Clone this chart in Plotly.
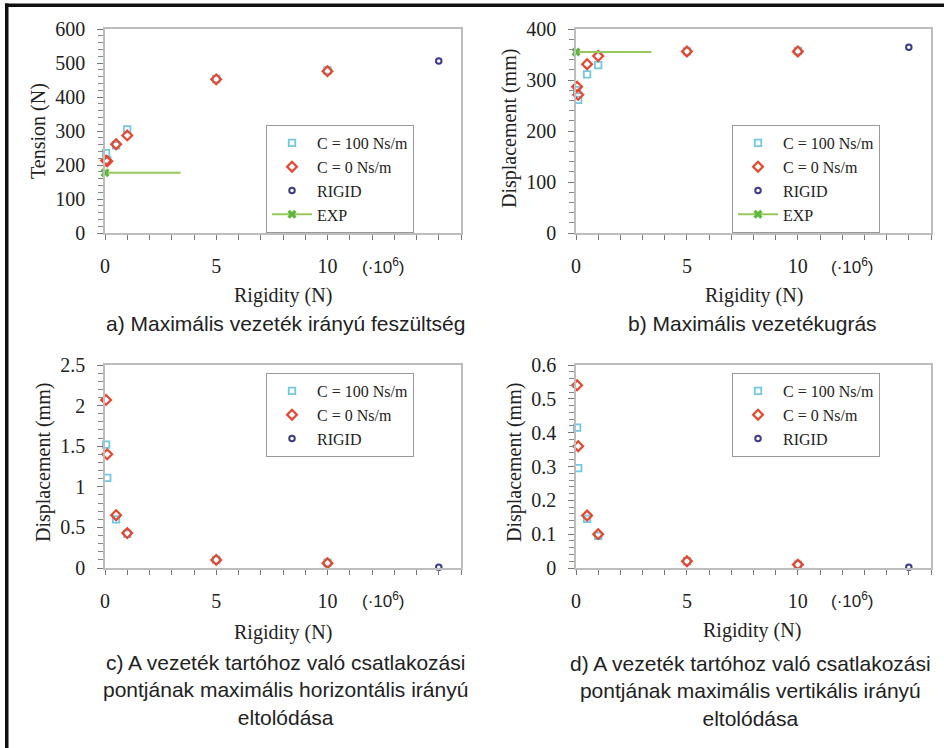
import plotly.graph_objects as go

W, H = 944, 748

# ---------------- data ----------------
rigidity = [0.05, 0.1, 0.5, 1, 5, 10]      # x 10^6 N
rigid_x = [15]
exp_x = [0, 3.4]

tension_c100 = [235, 214, 258, 305, 453, 478]
tension_c0 = [213, 211, 261, 287, 452, 476]
tension_rigid = [506]
tension_exp = [177, 177]

jump_c100 = [280, 261, 311, 329, 356, 357]
jump_c0 = [287, 271, 331, 347, 356, 356]
jump_rigid = [364]
jump_exp = [355, 355]

horiz_c100 = [1.52, 1.11, 0.60, 0.42, 0.10, 0.065]
horiz_c0 = [2.07, 1.40, 0.65, 0.43, 0.10, 0.06]
horiz_rigid = [0.01]

vert_c100 = [0.415, 0.295, 0.145, 0.095, 0.02, 0.01]
vert_c0 = [0.54, 0.36, 0.155, 0.10, 0.02, 0.01]
vert_rigid = [0.002]

series_names = ["C = 100 Ns/m", "C = 0 Ns/m", "RIGID", "EXP"]
x_tick_vals = list(range(0, 17))
x_tick_text = ["0", "", "", "", "", "5", "", "", "", "", "10", "", "", "", "", "", ""]
captions = [
    "a) Maximális vezeték irányú feszültség",
    "b) Maximális vezetékugrás",
    "c) A vezeték tartóhoz való csatlakozási<br>pontjának maximális horizontális irányú<br>eltolódása",
    "d) A vezeték tartóhoz való csatlakozási<br>pontjának maximális vertikális irányú<br>eltolódása",
]
y_titles = ["Tension (N)", "Displacement (mm)", "Displacement (mm)", "Displacement (mm)"]
x_title = "Rigidity (N)"

# ---------------- styles ----------------
C100 = "#72c8e4"
C0 = "#e8452c"
RIG = "#3c3a8c"
EXPC = "#96c95a"
EXPM = "#5cb83a"
SERIF = "Liberation Serif, Times New Roman, serif"
SANS = "Liberation Sans, Arial, sans-serif"

def px_x(p):
    return p / W

def px_y(p):
    return 1 - p / H

# plot areas in pixels: (left, right, top, bottom)
areas = [(105, 461, 29, 233), (576, 931, 29, 233),
         (105, 461, 365, 568), (576, 931, 365, 568)]

panels = [
    (tension_c100, tension_c0, tension_rigid, tension_exp),
    (jump_c100, jump_c0, jump_rigid, jump_exp),
    (horiz_c100, horiz_c0, horiz_rigid, None),
    (vert_c100, vert_c0, vert_rigid, None),
]
y_ranges = [[0, 600], [0, 400], [0, 2.5], [0, 0.6]]
y_dticks = [100, 100, 0.5, 0.1]
y_minor = [20, 20, 0.1, 0.02]

fig = go.Figure()
legend_names = ["legend", "legend2", "legend3", "legend4"]

for i, (c100, c0, rig, exp) in enumerate(panels):
    xa = "x" if i == 0 else f"x{i+1}"
    ya = "y" if i == 0 else f"y{i+1}"
    lg = legend_names[i]
    fig.add_trace(go.Scatter(
        x=rigidity, y=c100, mode="markers", name=series_names[0],
        marker=dict(symbol="square-open", size=6.5, color=C100, line=dict(width=1.8)),
        xaxis=xa, yaxis=ya, legend=lg, cliponaxis=False))
    fig.add_trace(go.Scatter(
        x=rigidity, y=c0, mode="markers", name=series_names[1],
        marker=dict(symbol="diamond-open", size=7.5, color=C0, line=dict(width=2.2)),
        xaxis=xa, yaxis=ya, legend=lg, cliponaxis=False))
    fig.add_trace(go.Scatter(
        x=rigid_x, y=rig, mode="markers", name=series_names[2],
        marker=dict(symbol="circle-open", size=5.5, color=RIG, line=dict(width=2)),
        xaxis=xa, yaxis=ya, legend=lg, cliponaxis=False))
    if exp is not None:
        fig.add_trace(go.Scatter(
            x=exp_x, y=exp, mode="lines+markers", name=series_names[3],
            line=dict(color=EXPC, width=2),
            marker=dict(symbol="x", size=8, color=[EXPM, "rgba(0,0,0,0)"],
                        line=dict(width=0)),
            xaxis=xa, yaxis=ya, legend=lg, cliponaxis=False))

layout = dict(
    width=W, height=H, margin=dict(l=0, r=0, t=0, b=0, autoexpand=False),
    paper_bgcolor="white", plot_bgcolor="white", showlegend=True,
)

for i, (l, r, t, b) in enumerate(areas):
    xk = "xaxis" if i == 0 else f"xaxis{i+1}"
    yk = "yaxis" if i == 0 else f"yaxis{i+1}"
    ya = "y" if i == 0 else f"y{i+1}"
    xa = "x" if i == 0 else f"x{i+1}"
    layout[xk] = dict(
        domain=[px_x(l), px_x(r)], anchor=ya, range=[0, 16],
        tickmode="array", tickvals=x_tick_vals, ticktext=x_tick_text,
        ticks="outside", ticklen=5, tickcolor="#777", tickwidth=1,
        showline=True, linecolor="#bdbdbd", linewidth=1.5, mirror=True,
        showgrid=False, zeroline=False, ticklabelstandoff=9, automargin=False,
        tickfont=dict(family=SERIF, size=20, color="#222"),
    )
    layout[yk] = dict(
        domain=[px_y(b), px_y(t)], anchor=xa, range=y_ranges[i],
        dtick=y_dticks[i], tick0=0,
        ticks="outside", ticklen=6, tickcolor="#777", tickwidth=1,
        minor=dict(ticks="outside", tickmode="linear", dtick=y_minor[i], tick0=0,
                   ticklen=5, tickcolor="#888", tickwidth=1),
        showline=True, linecolor="#bdbdbd", linewidth=1.5, mirror=True,
        showgrid=False, zeroline=False, ticklabelstandoff=8, automargin=False,
        tickfont=dict(family=SERIF, size=20, color="#222"),
    )

# legends
leg_pos = [(266, 125), (732, 125), (266, 373), (732, 373)]
for i, (lx, ly) in enumerate(leg_pos):
    layout[legend_names[i]] = dict(
        x=px_x(lx), y=px_y(ly), xanchor="left", yanchor="top",
        bgcolor="white", bordercolor="#9a9a9a", borderwidth=1,
        font=dict(family=SERIF, size=16, color="#222"),
        itemwidth=40, entrywidth=166, entrywidthmode="pixels",
        tracegroupgap=0,
    )

annotations = []

def ann(text, x, y, size, family, angle=0, color="#222"):
    annotations.append(dict(
        text=text, x=px_x(x), y=px_y(y), xref="paper", yref="paper",
        showarrow=False, xanchor="center", yanchor="middle", textangle=angle,
        font=dict(family=family, size=size, color=color)))

# x axis titles
for (x, y) in [(283, 295), (754, 295), (283, 632), (752, 630)]:
    ann(x_title, x, y, 20, SERIF)
# y axis titles
for i, (x, y) in enumerate([(38, 131), (509, 128), (43, 463), (514, 463)]):
    ann(y_titles[i], x, y, 20, SERIF, angle=-90)
# (x10^6) notes
for (x, y) in [(383, 266), (852, 266), (383, 600), (852, 600)]:
    ann("(·10<sup>6</sup>)", x, y, 17, SANS)
# captions
ann(captions[0], 285, 324, 21, SANS)
ann(captions[1], 752, 324, 21, SANS)
ann(captions[2], 285, 690, 21, SANS)
ann(captions[3], 750, 691, 21, SANS)

layout["annotations"] = annotations

# outer frame (top and left black edges)
layout["shapes"] = [
    dict(type="rect", xref="paper", yref="paper", x0=px_x(5), x1=1, y0=px_y(7), y1=px_y(3.5),
         fillcolor="#111", line=dict(width=0)),
    dict(type="rect", xref="paper", yref="paper", x0=px_x(5), x1=px_x(8.5), y0=0, y1=px_y(3.5),
         fillcolor="#111", line=dict(width=0)),
]

fig.update_layout(**layout)
fig.write_html(
    "out.html",
    config={"displayModeBar": False},
    post_script=("document.documentElement.style.margin='0';"
                 "document.body.style.margin='0';"
                 "document.body.style.overflow='hidden';"),
)
